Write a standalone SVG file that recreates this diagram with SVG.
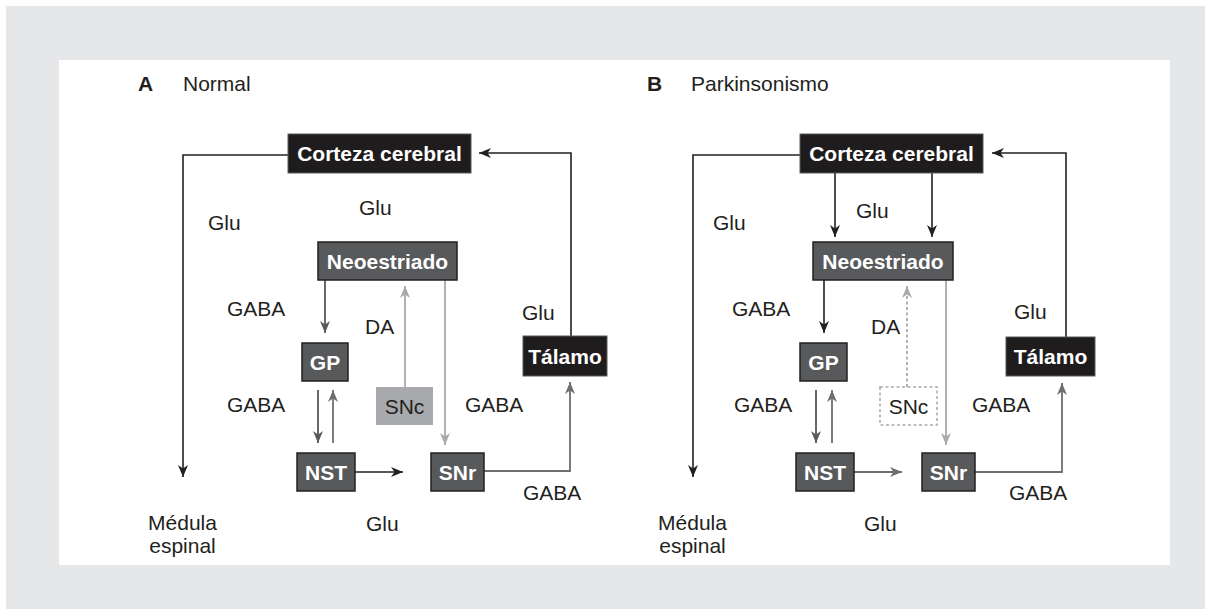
<svg xmlns="http://www.w3.org/2000/svg" width="1211" height="615" viewBox="0 0 1211 615">
<style>
.lbl{font-family:"Liberation Sans",Arial,sans-serif;font-size:21px;fill:#231f20}
.ttl{font-family:"Liberation Sans",Arial,sans-serif;font-size:21px;fill:#231f20;font-weight:bold}
.bt{font-family:"Liberation Sans",Arial,sans-serif;font-size:21px;fill:#ffffff;font-weight:bold;text-anchor:middle}
.st{font-family:"Liberation Sans",Arial,sans-serif;font-size:21px;fill:#231f20;text-anchor:middle}
.blk{fill:#1f1c1d;stroke:#5a5a5a;stroke-width:1}
.drk{fill:#58595b;stroke:#231f20;stroke-width:1.5}
.lgt{fill:#a7a9ac;stroke:none}
.dsh{fill:#ffffff;stroke:#a7a9ac;stroke-width:1.5;stroke-dasharray:3 2.5}
.ck{fill:none;stroke:#231f20;stroke-width:1.6}
.cd{fill:none;stroke:#58595b;stroke-width:1.8}
.cg{fill:none;stroke:#6d6e71;stroke-width:1.8}
.cl{fill:none;stroke:#a7a9ac;stroke-width:1.8}
</style>
<defs>
<marker id="ak" viewBox="0 0 12 10" refX="12" refY="5" markerWidth="12" markerHeight="10" markerUnits="userSpaceOnUse" orient="auto"><path d="M0,0 L12,5 L0,10 L3.5,5 z" fill="#231f20"/></marker>
<marker id="ad" viewBox="0 0 12 10" refX="12" refY="5" markerWidth="12" markerHeight="10" markerUnits="userSpaceOnUse" orient="auto"><path d="M0,0 L12,5 L0,10 L3.5,5 z" fill="#58595b"/></marker>
<marker id="ag" viewBox="0 0 12 10" refX="12" refY="5" markerWidth="12" markerHeight="10" markerUnits="userSpaceOnUse" orient="auto"><path d="M0,0 L12,5 L0,10 L3.5,5 z" fill="#6d6e71"/></marker>
<marker id="al" viewBox="0 0 12 10" refX="12" refY="5" markerWidth="12" markerHeight="10" markerUnits="userSpaceOnUse" orient="auto"><path d="M0,0 L12,5 L0,10 L3.5,5 z" fill="#a7a9ac"/></marker>
</defs>
<rect x="0" y="0" width="1211" height="615" fill="#ffffff"/>
<rect x="6" y="6" width="1199" height="603" fill="#e6e7e8"/>
<rect x="59" y="60" width="1111" height="505" fill="#ffffff"/>

<g id="titles">
<text class="ttl" x="138" y="91">A</text>
<text class="lbl" x="183" y="91">Normal</text>
<text class="ttl" x="647" y="91">B</text>
<text class="lbl" x="691" y="91">Parkinsonismo</text>
</g>

<g id="connectors">
<path class="ck" d="M288,155 H183 V477" marker-end="url(#ak)"/>
<path class="ck" d="M571,336 V153 H479" marker-end="url(#ak)"/>
<path class="cd" d="M325,280 V333" marker-end="url(#ad)"/>
<path class="cl" d="M405,387 V286" marker-end="url(#al)"/>
<path class="cl" d="M445,280 V445" marker-end="url(#al)"/>
<path class="cd" d="M318,390 V443" marker-end="url(#ad)"/>
<path class="cg" d="M333,443 V390" marker-end="url(#ag)"/>
<path class="ck" d="M355,472 H403" marker-end="url(#ak)"/>
<path class="cg" d="M484,471 H570 V382" marker-end="url(#ag)"/>

<path class="ck" d="M800,155 H693 V477" marker-end="url(#ak)"/>
<path class="ck" d="M1066,337 V153 H992" marker-end="url(#ak)"/>
<path class="ck" d="M835,173 V237" marker-end="url(#ak)"/>
<path class="ck" d="M932,173 V237" marker-end="url(#ak)"/>
<path class="ck" d="M824,280 V333" marker-end="url(#ak)"/>
<path class="cl" d="M907,387 V286" stroke-dasharray="3 2.5" marker-end="url(#al)"/>
<path class="cl" d="M946,280 V445" marker-end="url(#al)"/>
<path class="cd" d="M816,390 V443" marker-end="url(#ad)"/>
<path class="cg" d="M832,443 V390" marker-end="url(#ag)"/>
<path class="cg" d="M854,472 H902" marker-end="url(#ag)"/>
<path class="cg" d="M975,472 H1062 V383" marker-end="url(#ag)"/>
</g>

<g id="a-corteza"><rect class="blk" x="288" y="134" width="183" height="39"/><text class="bt" x="379.5" y="161">Corteza cerebral</text></g>
<g id="a-neoestriado"><rect class="drk" x="318" y="242" width="139" height="38"/><text class="bt" x="387.5" y="268.5">Neoestriado</text></g>
<g id="a-gp"><rect class="drk" x="302" y="343" width="46" height="38"/><text class="bt" x="325" y="369.5">GP</text></g>
<g id="a-snc"><rect class="lgt" x="376" y="387" width="57" height="38"/><text class="st" x="404.5" y="413.5">SNc</text></g>
<g id="a-talamo"><rect class="blk" x="523" y="336" width="84" height="40"/><text class="bt" x="565" y="363.5">Tálamo</text></g>
<g id="a-nst"><rect class="drk" x="297" y="453" width="58" height="38"/><text class="bt" x="326" y="479.5">NST</text></g>
<g id="a-snr"><rect class="drk" x="431" y="453" width="53" height="38"/><text class="bt" x="457.5" y="479.5">SNr</text></g>

<g id="b-corteza"><rect class="blk" x="800" y="134" width="183" height="39"/><text class="bt" x="891.5" y="161">Corteza cerebral</text></g>
<g id="b-neoestriado"><rect class="drk" x="813" y="242" width="140" height="38"/><text class="bt" x="883" y="268.5">Neoestriado</text></g>
<g id="b-gp"><rect class="drk" x="800" y="343" width="47" height="38"/><text class="bt" x="823.5" y="369.5">GP</text></g>
<g id="b-snc"><rect class="dsh" x="880" y="387" width="57" height="38"/><text class="st" x="908.5" y="413.5">SNc</text></g>
<g id="b-talamo"><rect class="blk" x="1006" y="337" width="89" height="39"/><text class="bt" x="1050.5" y="364">Tálamo</text></g>
<g id="b-nst"><rect class="drk" x="796" y="453" width="58" height="38"/><text class="bt" x="825" y="479.5">NST</text></g>
<g id="b-snr"><rect class="drk" x="922" y="453" width="53" height="38"/><text class="bt" x="948.5" y="479.5">SNr</text></g>

<g id="labels">
<text class="lbl" x="208" y="230">Glu</text>
<text class="lbl" x="359" y="215">Glu</text>
<text class="lbl" x="227" y="316">GABA</text>
<text class="lbl" x="365" y="334">DA</text>
<text class="lbl" x="522" y="320">Glu</text>
<text class="lbl" x="227" y="412">GABA</text>
<text class="lbl" x="465" y="412">GABA</text>
<text class="lbl" x="523" y="500">GABA</text>
<text class="lbl" x="366" y="531">Glu</text>
<text class="st" x="182.5" y="530">Médula</text>
<text class="st" x="182.5" y="553">espinal</text>

<text class="lbl" x="713" y="230">Glu</text>
<text class="lbl" x="856" y="218">Glu</text>
<text class="lbl" x="732" y="316">GABA</text>
<text class="lbl" x="871" y="334">DA</text>
<text class="lbl" x="1014" y="319">Glu</text>
<text class="lbl" x="734" y="412">GABA</text>
<text class="lbl" x="972" y="412">GABA</text>
<text class="lbl" x="1009" y="500">GABA</text>
<text class="lbl" x="864" y="531">Glu</text>
<text class="st" x="692.5" y="530">Médula</text>
<text class="st" x="692.5" y="553">espinal</text>
</g>
</svg>
